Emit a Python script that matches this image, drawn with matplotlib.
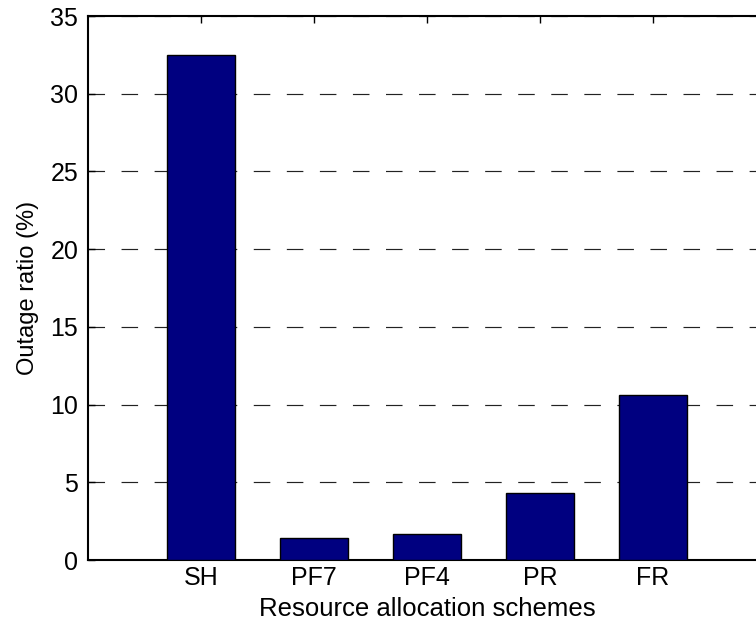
import matplotlib
matplotlib.use("Agg")
import matplotlib.pyplot as plt

schemes = ["SH", "PF7", "PF4", "PR", "FR"]
outage = [32.5, 1.4, 1.65, 4.3, 10.6]
yticks = [0, 5, 10, 15, 20, 25, 30, 35]

plt.rcParams['font.family'] = ['Liberation Sans', 'DejaVu Sans']
fig = plt.figure(figsize=(7.56, 6.21), dpi=100)
W, H = 756, 621
left, right, top, bottom = 88, 766, 16, 560
ax = fig.add_axes([left / W, 1 - bottom / H, (right - left) / W, (bottom - top) / H])

x = list(range(1, len(schemes) + 1))
ax.bar(x, outage, width=0.6, color="#000080", edgecolor="black", linewidth=1.0, zorder=3)
ax.set_xlim(0, 6)
ax.set_ylim(0, 35)
ax.set_xticks(x)
ax.set_xticklabels(schemes)
ax.set_yticks(yticks)
ax.yaxis.grid(True, linestyle=(0, (14, 14)), color="#222222", linewidth=0.85, zorder=0)
ax.set_axisbelow(True)
ax.tick_params(direction="in", length=5, labelsize=18, top=True, right=False, width=1)
ax.tick_params(axis="x", pad=4)
ax.tick_params(axis="y", pad=7)
for s in ax.spines.values():
    s.set_linewidth(1.5)
ax.spines['right'].set_visible(False)
ax.set_xlabel("Resource allocation schemes", fontsize=18.5, labelpad=5)
ax.set_ylabel("Outage ratio (%)", fontsize=17, labelpad=8)
fig.savefig("out.png", dpi=100)
